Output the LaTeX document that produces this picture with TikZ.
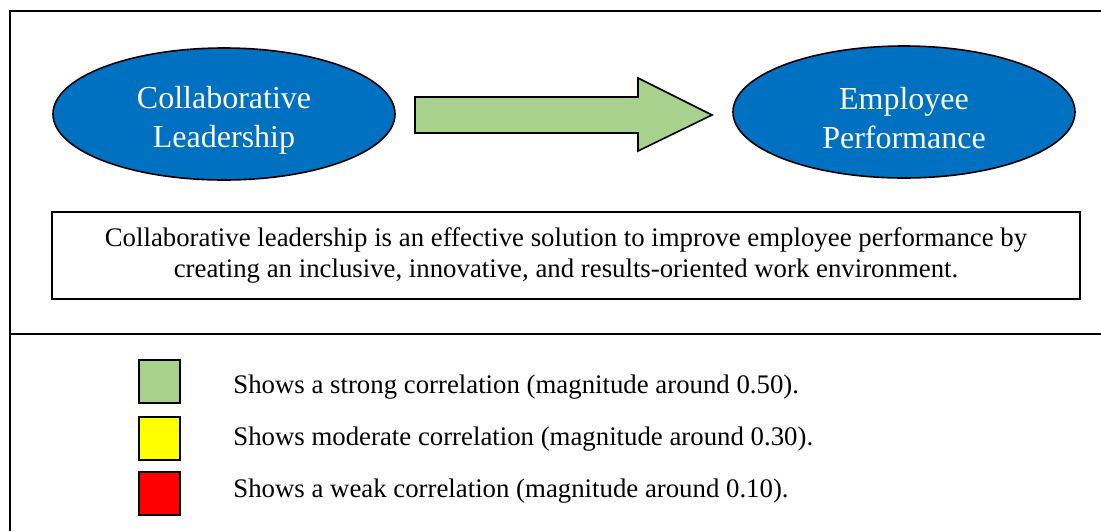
\documentclass[tikz,border=0pt]{standalone}
\usepackage{fontspec}
\setmainfont{Liberation Serif}
\usepackage{tikz}
\usetikzlibrary{shapes.geometric}

\definecolor{ovalblue}{HTML}{0070C0}
\definecolor{strongcol}{HTML}{A9D18E}
\definecolor{moderatecol}{HTML}{FFFF00}
\definecolor{weakcol}{HTML}{FF0000}

\begin{document}
\begin{tikzpicture}[x=0.5pt,y=-0.5pt,
   oval/.style={ellipse,draw=black,line width=0.8pt,fill=ovalblue,minimum width=171pt,minimum height=66pt,inner sep=0pt},
   ovaltext/.style={text=white,align=center,inner sep=0pt,font=\fontsize{16}{19.5}\selectfont},
   swatch/.style={draw=black,line width=1pt,minimum width=20.5pt,minimum height=21.5pt,inner sep=0pt},
   legtext/.style={anchor=base west,inner sep=0pt,font=\fontsize{13.4}{16}\selectfont}]
   \useasboundingbox (0,0) rectangle (1101,531);

   % frame and divider
   \draw[line width=1pt] (1101,11) -- (10,11) -- (10,531);
   \draw[line width=1pt] (10,334) -- (1101,334);

   \draw (224,114) node[oval] (collab) {};
   \draw (collab) ++(0,6) node[ovaltext] (collab-txt) {Collaborative\\Leadership};
   \draw (904,112) node[oval] (perf) {};
   \draw (perf) ++(0,6) node[ovaltext] (perf-txt) {Employee\\Performance};

   % block arrow between the two ovals
   \draw[fill=strongcol,line width=0.8pt] (415,97) -- (638,97) -- (638,78) -- (712,115)
      -- (638,151) -- (638,133) -- (415,133) -- cycle;

   \draw (566,255.5) node[draw,line width=1pt,minimum width=514pt,minimum height=43.5pt,
      align=center,font=\fontsize{13.4}{15.5}\selectfont] (summary)
      {Collaborative leadership is an effective solution to improve employee performance by\\
       creating an inclusive, innovative, and results-oriented work environment.};

   % legend
   \draw (159.5,381.5) node[swatch,fill=strongcol] (strong) {};
   \draw (159.5,438) node[swatch,fill=moderatecol] (moderate) {};
   \draw (159.5,493.5) node[swatch,fill=weakcol] (weak) {};
   \draw (233,393) node[legtext] (strong-txt) {Shows a strong correlation (magnitude around 0.50).};
   \draw (233,445) node[legtext] (moderate-txt) {Shows moderate correlation (magnitude around 0.30).};
   \draw (233,497) node[legtext] (weak-txt) {Shows a weak correlation (magnitude around 0.10).};
\end{tikzpicture}
\end{document}
